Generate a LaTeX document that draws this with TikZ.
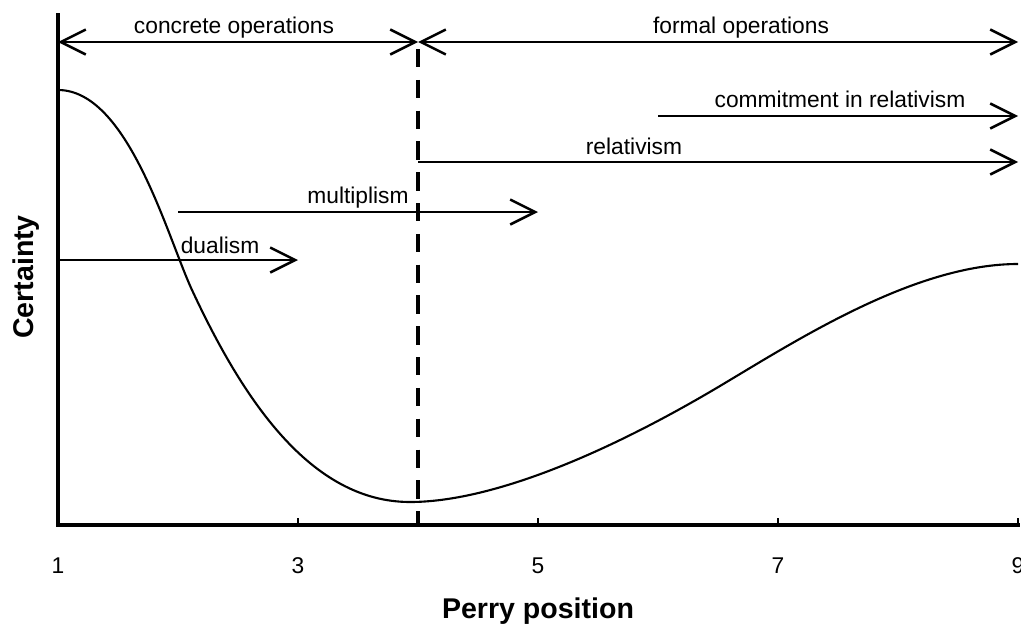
\documentclass[tikz,border=0pt]{standalone}
\usepackage{fontspec}
\setmainfont{Liberation Sans}
\usetikzlibrary{arrows.meta}

\tikzset{
  axis/.style={line width=2.8pt, line cap=rect},
  stage/.style={line width=1.8pt},
  split/.style={line width=2.3pt, dash pattern=on 0.46cm off 0.31cm},
  certainty curve/.style={line width=1.5pt},
  lbl/.style={font=\fontsize{16.2}{19}\selectfont, anchor=base, inner sep=0pt},
  axlbl/.style={font=\bfseries\fontsize{20.3}{24}\selectfont, anchor=base, inner sep=0pt}
}

\begin{document}
\begin{tikzpicture}[x=0.025cm, y=-0.025cm,
  >={Straight Barb[length=17.8pt,width=17.8pt]}]
  \useasboundingbox (0,0) rectangle (1021,625);

  \coordinate (ytop) at (58,15);
  \coordinate (o) at (58,525);
  \coordinate (xend) at (1018,525);
  \draw[axis] (ytop) -- (o) -- (xend);
  \foreach \p in {3,5,7,9}
    \draw[line width=2pt] ({58+120*(\p-1)},525) -- ++(0,-7);
  \foreach \p in {1,3,5,7,9}
    \node[lbl] (tick\p) at ({58+120*(\p-1)},573) {\p};

  \node[axlbl] (xlabel) at (538,618) {Perry position};
  \node[axlbl, rotate=90] (ylabel) at (33,277) {Certainty};

  % periods
  \coordinate (op1) at (58,42);
  \coordinate (op4) at (418,42);
  \coordinate (op9) at (1018,42);
  \draw[stage,<->] (op1) -- (op4);
  \draw[stage,<->] (op4) -- (op9);
  \node[lbl] (concrete) at (234,33) {concrete operations};
  \node[lbl] (formal) at (741,33) {formal operations};

  \coordinate (cut) at (418,49);
  \coordinate (cutend) at (418,525);
  \draw[split] (cut) -- (cutend);

  % positions
  \coordinate (com1) at (658,116);
  \coordinate (com2) at (1018,116);
  \draw[stage,->] (com1) -- (com2);
  \node[lbl] (commitment) at (840,107) {commitment in relativism};

  \coordinate (rel1) at (418,162);
  \coordinate (rel2) at (1018,162);
  \draw[stage,->] (rel1) -- (rel2);
  \node[lbl] (relativism) at (634,154) {relativism};

  \coordinate (mul1) at (178,212);
  \coordinate (mul2) at (538,212);
  \draw[stage,->] (mul1) -- (mul2);
  \node[lbl] (multiplism) at (358,203) {multiplism};

  \coordinate (dua1) at (58,260);
  \coordinate (dua2) at (298,260);
  \draw[stage,->] (dua1) -- (dua2);
  \node[lbl] (dualism) at (220,253) {dualism};

  % certainty
  \coordinate (top) at (58,90);
  \coordinate (fall) at (192,290);
  \coordinate (low) at (410,502);
  \coordinate (rise) at (725,383);
  \coordinate (end) at (1018,264);
  \draw[certainty curve] (top)
    .. controls (128,90) and (167,236) .. (fall)
    .. controls (242,397.5) and (310,502) .. (low)
    .. controls (490,502) and (605,455) .. (rise)
    .. controls (805,335) and (918,264) .. (end);
\end{tikzpicture}
\end{document}
